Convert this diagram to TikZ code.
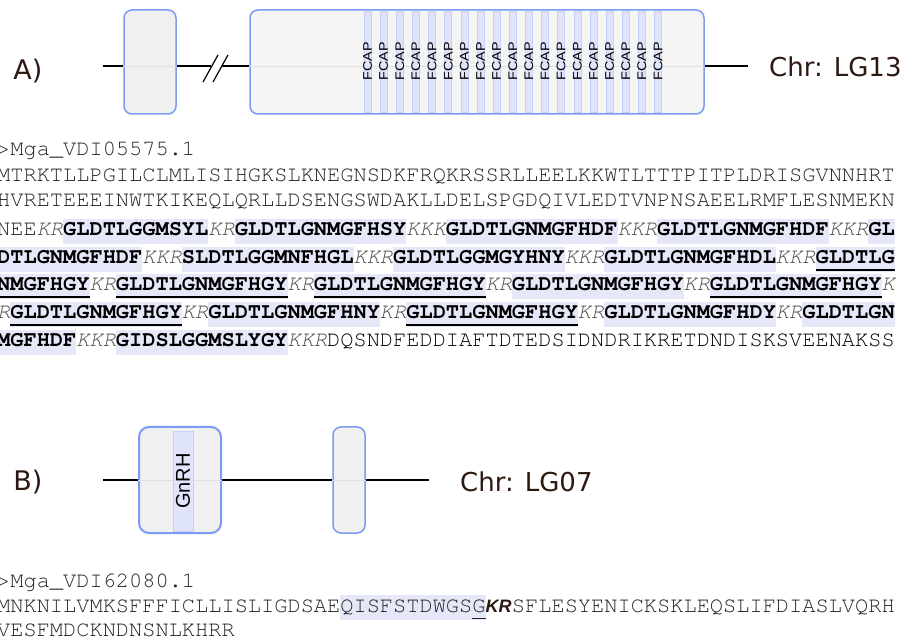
\documentclass[tikz,border=0pt]{standalone}
\usepackage{fontspec}
\usepackage{graphicx}
\setmainfont{DejaVu Sans}
\setsansfont{Liberation Sans}
\setmonofont{texgyrecursor-regular.otf}[BoldFont=texgyrecursor-bold.otf, ItalicFont=texgyrecursor-italic.otf, BoldItalicFont=texgyrecursor-bolditalic.otf]
\usetikzlibrary{positioning}

\definecolor{exonline}{RGB}{125,155,245}
\definecolor{exonfill}{RGB}{240,240,240}
\definecolor{stripefill}{RGB}{224,228,251}
\definecolor{stripeline}{RGB}{200,208,248}
\definecolor{hlblue}{RGB}{230,232,250}
\definecolor{labelbrown}{RGB}{45,25,18}
\definecolor{seqgray}{RGB}{35,35,35}
\definecolor{krgray}{RGB}{80,80,80}

% highlight, underline and motif helpers
\newcommand\hl[1]{\setbox0\hbox{#1}\rlap{\color{hlblue}\rule[-8pt]{\wd0}{25pt}}\box0}
\newcommand\ulin[2][1.6pt]{\setbox0\hbox{#2}\rlap{\rule[-7pt]{\wd0}{#1}}\box0}
\newcommand\B[1]{\hl{\bfseries\color{black}#1}}
\newcommand\BU[1]{\hl{\bfseries\color{black}\ulin{#1}}}
\newcommand\kr[1]{{\itshape\color{krgray}#1}}
\newcommand\KRs{\makebox[26.4pt][l]{\fontsize{18}{18}\sffamily\bfseries\itshape\color{labelbrown}KR}}

\tikzset{
  exon/.style={draw=exonline, fill=exonfill, rounded corners=8pt, line width=1.5pt, inner sep=0pt},
  stripe/.style={draw=stripeline, fill=stripefill, line width=0.6pt, inner sep=0pt, minimum width=7pt},
  gline/.style={line width=1.5pt, black},
  faint/.style={line width=0.8pt, black!12},
  lab/.style={text=labelbrown, inner sep=0pt},
  seq/.style={font=\fontsize{22}{22}\selectfont\ttfamily, text=seqgray, inner sep=0pt, anchor=base west}
}

\begin{document}
\begin{tikzpicture}[x=1pt,y=-1pt]
\useasboundingbox[fill=white] (0,0) rectangle (903,644);

% A) gene with FCAP repeats
\node[lab, font=\fontsize{27}{27}\selectfont] (la) at (28,71) {A)};
\coordinate (a0) at (103,66);
\coordinate (a1) at (748,66);
\coordinate (brk1) at (211,66);
\coordinate (brk2) at (222,66);
\node[exon, minimum width=52pt, minimum height=104pt] (e1) at (150,62) {};
\node[exon, fill=black!4, minimum width=454pt, minimum height=104pt] (e2) at (477,62) {};
\draw[faint] (e1.west |- a0) -- (e1.east |- a0);
\draw[faint] (e2.west |- a0) -- (e2.east |- a0);
\foreach \i in {0,...,18}{
  \node[stripe, minimum height=101pt] (s\i) at ({367.5+16.14*\i},62) {};
  \node[rotate=90, inner sep=0pt, font=\fontsize{12.5}{12.5}\selectfont\sffamily] (f\i) at ([yshift=1pt]s\i.center) {\scalebox{1.15}[1]{FCAP}};
}
\draw[gline] (a0) -- (e1.west |- a0);
\draw[gline] (e1.east |- a0) -- (brk1);
\draw[gline] (brk2) -- (e2.west |- a0);
\draw[gline] (e2.east |- a0) -- (a1);
\draw[gline, line width=1.2pt] (203,82) -- (218,55);
\draw[gline, line width=1.2pt] (213,82) -- (228,55);
\node[lab, anchor=west, font=\fontsize{26}{26}\selectfont] (ca) at (769,67) {Chr: LG13};

% A) protein sequence
\node[seq] (r1) at (-3,156) {>Mga\_VDI05575.1};
\node[seq] (r2) at (-3,182) {MTRKTLLPGILCLMLISIHGKSLKNEGNSDKFRQKRSSRLLEELKKWTLTTTPITPLDRISGVNNHRT};
\node[seq] (r3) at (-3,207) {HVRETEEEINWTKIKEQLQRLLDSENGSWDAKLLDELSPGDQIVLEDTVNPNSAEELRMFLESNMEKN};
\node[seq] (r4) at (-3,236) {NEE\kr{KR}\B{GLDTLGGMSYL}\kr{KR}\B{GLDTLGNMGFHSY}\kr{KKK}\B{GLDTLGNMGFHDF}\kr{KKR}\B{GLDTLGNMGFHDF}\kr{KKR}\B{GL}};
\node[seq] (r5) at (-3,264) {\B{DTLGNMGFHDF}\kr{KKR}\B{SLDTLGGMNFHGL}\kr{KKR}\B{GLDTLGGMGYHNY}\kr{KKR}\B{GLDTLGNMGFHDL}\kr{KKR}\BU{GLDTLG}};
\node[seq] (r6) at (-3,291) {\BU{NMGFHGY}\kr{KR}\BU{GLDTLGNMGFHGY}\kr{KR}\BU{GLDTLGNMGFHGY}\kr{KR}\B{GLDTLGNMGFHGY}\kr{KR}\BU{GLDTLGNMGFHGY}\kr{K}};
\node[seq] (r7) at (-3,319) {\kr{R}\BU{GLDTLGNMGFHGY}\kr{KR}\B{GLDTLGNMGFHNY}\kr{KR}\BU{GLDTLGNMGFHGY}\kr{KR}\B{GLDTLGNMGFHDY}\kr{KR}\B{GLDTLGN}};
\node[seq] (r8) at (-3,347) {\B{MGFHDF}\kr{KKR}\B{GIDSLGGMSLYGY}\kr{KKR}DQSNDFEDDIAFTDTEDSIDNDRIKRETDNDISKSVEENAKSS};

% B) gene with GnRH
\node[lab, font=\fontsize{27}{27}\selectfont] (lb) at (28,482) {B)};
\coordinate (b0) at (103,480);
\coordinate (b1) at (429,480);
\node[exon, line width=2pt, rounded corners=10pt, minimum width=82pt, minimum height=106pt] (g1) at (180,480) {};
\node[exon, minimum width=32pt, minimum height=106pt] (g2) at (349,480) {};
\draw[faint] (g1.west) -- (g1.east);
\draw[faint] (g2.west) -- (g2.east);
\node[stripe, minimum width=20pt, minimum height=100pt] (gs) at (183,481) {};
\node[rotate=90, inner sep=0pt, font=\fontsize{20}{20}\selectfont\sffamily] (gt) at (gs) {GnRH};
\draw[gline] (b0) -- (g1.west);
\draw[gline] (g1.east) -- (g2.west);
\draw[gline] (g2.east) -- (b1);
\node[lab, anchor=west, font=\fontsize{26}{26}\selectfont] (cb) at (460,482) {Chr: LG07};

% B) protein sequence
\node[seq] (t1) at (-3,587) {>Mga\_VDI62080.1};
\node[seq] (t2) at (-3,612) {MNKNILVMKSFFFICLLISLIGDSAE\hl{QISFSTDWGS\ulin[1pt]{G}}\KRs SFLESYENICKSKLEQSLIFDIASLVQRH};
\node[seq] (t3) at (-3,636) {VESFMDCKNDNSNLKHRR};
\end{tikzpicture}
\end{document}
